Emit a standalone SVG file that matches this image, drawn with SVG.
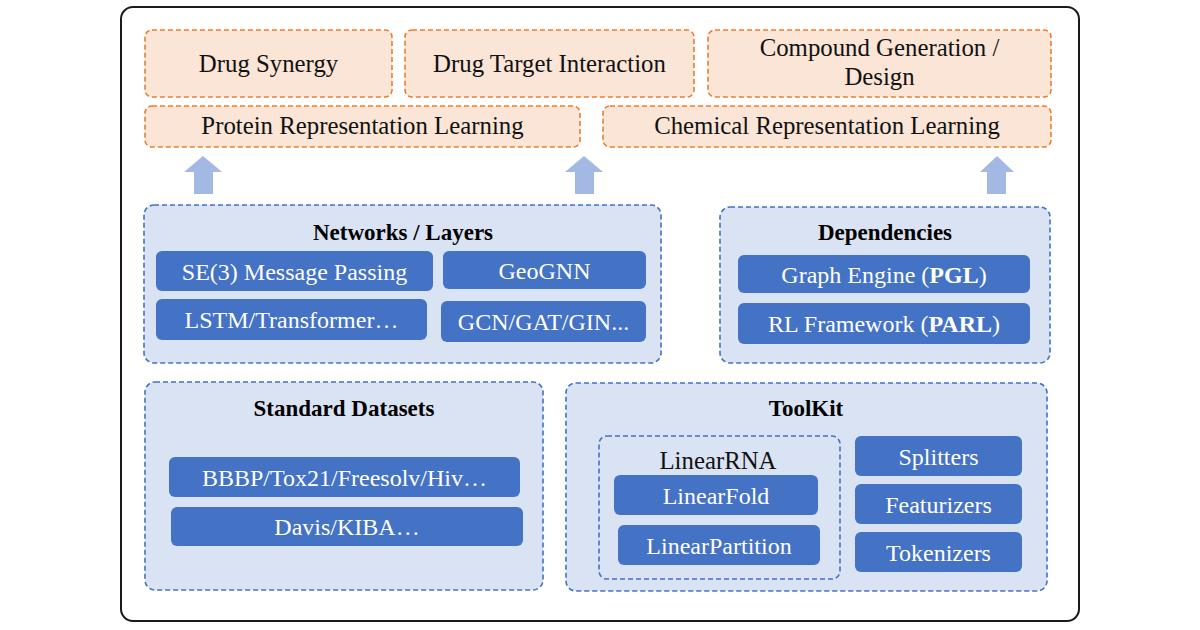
<svg xmlns="http://www.w3.org/2000/svg" width="1200" height="630" viewBox="0 0 1200 630">
<style>
text{font-family:"Liberation Serif",serif;text-anchor:middle}
.task{fill:#fbe5d6;stroke:#ed7d31;stroke-width:1.6;stroke-dasharray:5 3}
.tt{font-size:24.8px;fill:#111}
.grp{fill:#dae3f3;stroke:#4472c4;stroke-width:1.6;stroke-dasharray:5 3}
.gt{font-size:23px;font-weight:bold;fill:#000}
.blk{fill:#4472c4}
.bt{font-size:24px;fill:#fff}
.arr{fill:#a3b9e3}
</style>
<rect x="121" y="7" width="958" height="614" rx="12" fill="#fff" stroke="#1a1a1a" stroke-width="2"/>

<g id="drug-synergy"><rect class="task" x="145" y="30" width="247" height="67" rx="7"/><text class="tt" x="268.5" y="72">Drug Synergy</text></g>
<g id="dti"><rect class="task" x="405" y="30" width="289" height="67" rx="7"/><text class="tt" x="549.5" y="72">Drug Target Interaction</text></g>
<g id="compound"><rect class="task" x="708" y="30" width="343" height="67" rx="7"/><text class="tt" x="879.5" y="56">Compound Generation /</text><text class="tt" x="879.5" y="85">Design</text></g>
<g id="protein"><rect class="task" x="145" y="106" width="435" height="41" rx="7"/><text class="tt" x="362.5" y="134">Protein Representation Learning</text></g>
<g id="chemical"><rect class="task" x="603" y="106" width="448" height="41" rx="7"/><text class="tt" x="827" y="134">Chemical Representation Learning</text></g>

<g id="connectors">
<polygon class="arr" points="203,156 222,172 213,172 213,194 194,194 194,172 184,172"/>
<polygon class="arr" points="584,156 603,172 594,172 594,194 575,194 575,172 565,172"/>
<polygon class="arr" points="997,156 1014,172 1006,172 1006,194 987,194 987,172 980,172"/>
</g>

<g id="networks">
<rect class="grp" x="144" y="205" width="517" height="158" rx="10"/>
<text class="gt" x="403" y="240">Networks / Layers</text>
<rect class="blk" x="156" y="251" width="277" height="40" rx="6"/><text class="bt" x="294.5" y="280">SE(3) Message Passing</text>
<rect class="blk" x="443" y="251" width="203" height="38" rx="6"/><text class="bt" x="544.5" y="279">GeoGNN</text>
<rect class="blk" x="156" y="299" width="271" height="41" rx="6"/><text class="bt" x="291.5" y="328">LSTM/Transformer…</text>
<rect class="blk" x="441" y="301" width="205" height="41" rx="6"/><text class="bt" x="543.5" y="330">GCN/GAT/GIN...</text>
</g>

<g id="dependencies">
<rect class="grp" x="720" y="207" width="330" height="156" rx="10"/>
<text class="gt" x="885" y="240">Dependencies</text>
<rect class="blk" x="738" y="255" width="292" height="38" rx="6"/><text class="bt" x="884" y="283">Graph Engine (<tspan font-weight="bold">PGL</tspan>)</text>
<rect class="blk" x="738" y="303" width="292" height="41" rx="6"/><text class="bt" x="884" y="332">RL Framework (<tspan font-weight="bold">PARL</tspan>)</text>
</g>

<g id="datasets">
<rect class="grp" x="145" y="382" width="398" height="208" rx="10"/>
<text class="gt" x="344" y="416">Standard Datasets</text>
<rect class="blk" x="169" y="457" width="351" height="40" rx="6"/><text class="bt" x="344.5" y="486" font-size="24.6">BBBP/Tox21/Freesolv/Hiv…</text>
<rect class="blk" x="171" y="507" width="352" height="39" rx="6"/><text class="bt" x="347" y="535">Davis/KIBA…</text>
</g>

<g id="toolkit">
<rect class="grp" x="566" y="383" width="481" height="208" rx="10"/>
<text class="gt" x="806" y="416">ToolKit</text>
<g id="linearrna">
<rect x="599" y="436" width="241" height="143" rx="8" fill="none" stroke="#4472c4" stroke-width="1.6" stroke-dasharray="5 3"/>
<text class="tt" x="718" y="469">LinearRNA</text>
<rect class="blk" x="614" y="475" width="204" height="40" rx="6"/><text class="bt" x="716" y="504">LinearFold</text>
<rect class="blk" x="618" y="525" width="202" height="40" rx="6"/><text class="bt" x="719" y="554">LinearPartition</text>
</g>
<rect class="blk" x="855" y="436" width="167" height="40" rx="6"/><text class="bt" x="938.5" y="465">Splitters</text>
<rect class="blk" x="855" y="484" width="167" height="40" rx="6"/><text class="bt" x="938.5" y="513">Featurizers</text>
<rect class="blk" x="855" y="532" width="167" height="40" rx="6"/><text class="bt" x="938.5" y="561">Tokenizers</text>
</g>
</svg>
